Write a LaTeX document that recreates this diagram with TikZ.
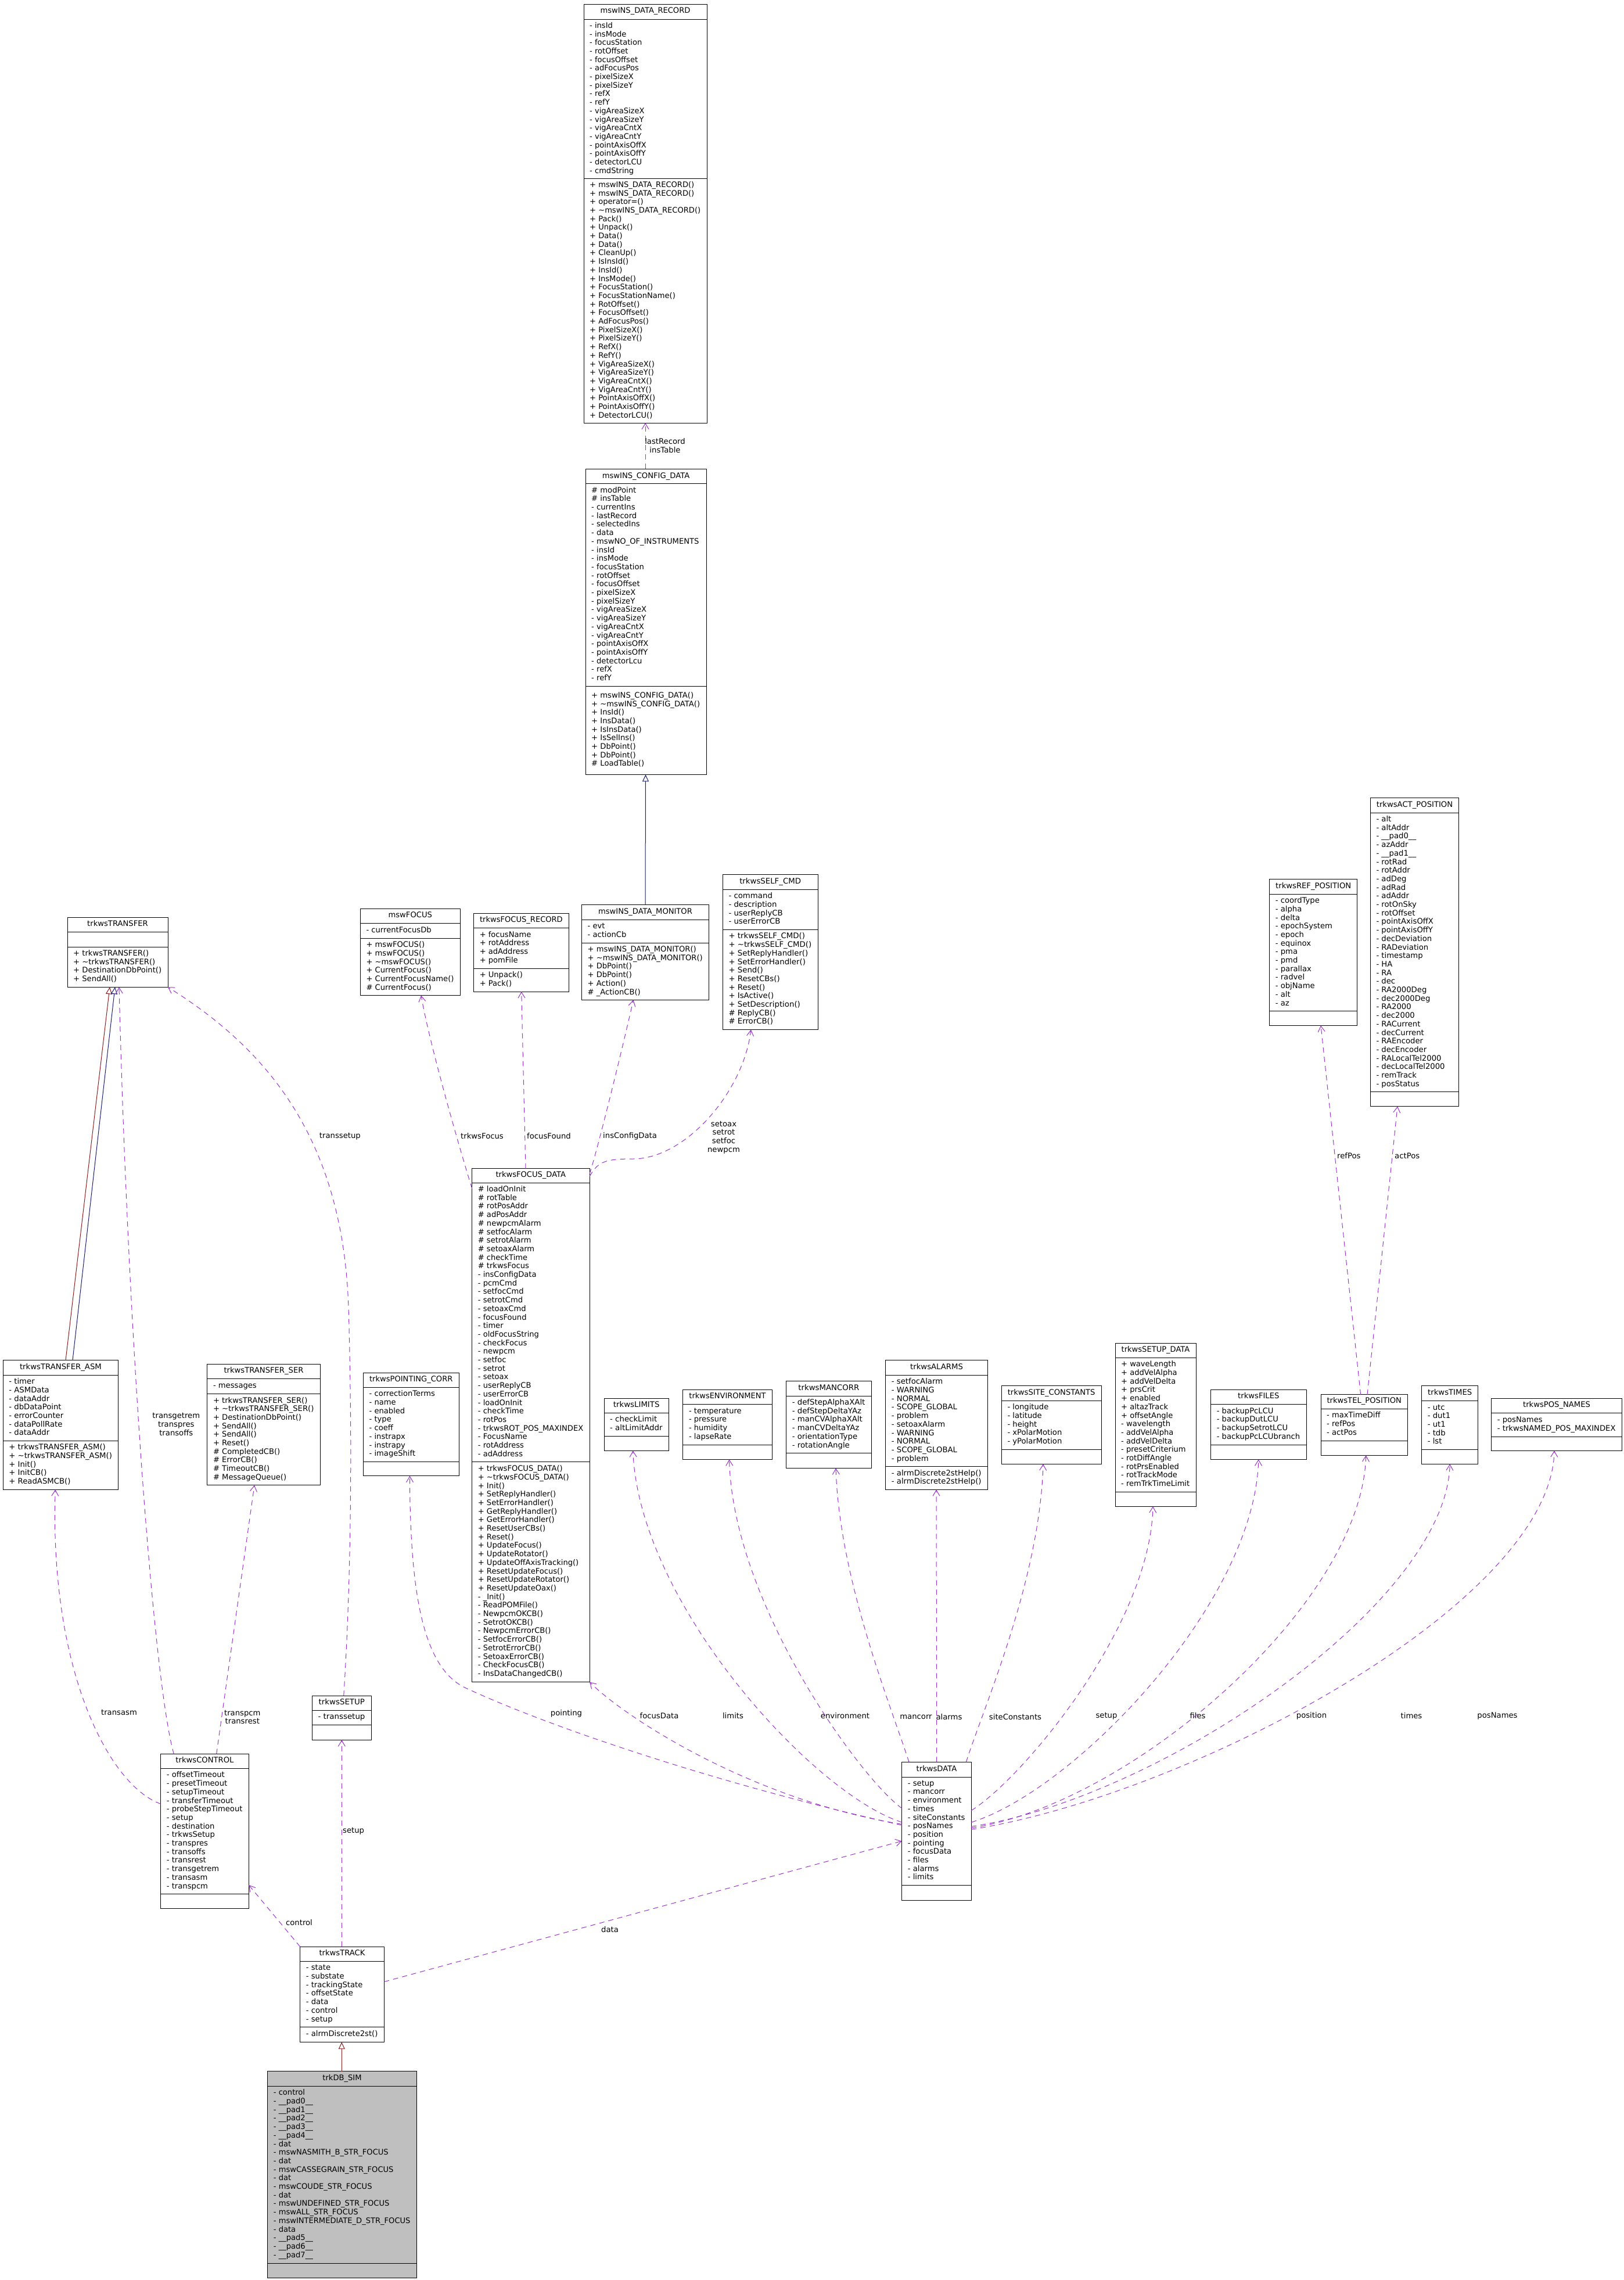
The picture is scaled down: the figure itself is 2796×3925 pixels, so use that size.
\documentclass[tikz,border=0pt]{standalone}
\usepackage{fontspec}
\setmainfont{DejaVu Sans}
\usepackage{graphicx}
\usetikzlibrary{arrows.meta,calc}
\definecolor{usecol}{HTML}{9A32CD}
\definecolor{pubcol}{HTML}{191970}
\definecolor{protcol}{HTML}{8B1A1A}
\definecolor{simfill}{HTML}{BFBFBF}
\newbox\measbox
\newdimen\wmaxd
\newcommand\tld{\textasciitilde}
\newcommand\sect[1]{\fontsize{13.2pt}{14.7pt}\selectfont\begin{tabular}{@{}l@{}}#1\end{tabular}}
\newcommand\clsdata[4]{\gdef\nA{#1}\gdef\cA{#2}\gdef\nM{#3}\gdef\cM{#4}}
\newcommand\measure[1]{\pgfinterruptpicture\setbox\measbox=\hbox{\sect{#1}}\ifdim\wd\measbox>\wmaxd\relax\global\wmaxd=\wd\measbox\relax\fi\endpgfinterruptpicture}
\makeatletter
\newcommand\cls[9]{%
 \global\wmaxd=1pt\relax
 \measure{#8}%
 \ifnum\nA>0 \measure{\cA}\fi
 \ifnum\nM>0 \measure{\cM}\fi
 \edef\wmax{\strip@pt\wmaxd}%
 \pgfmathsetmacro\sx{max(0.8,min(1.15,(#3-#2-21)/\wmax))}%
 \pgfmathsetmacro\bw{#3-#2}%
 \pgfmathsetmacro\bh{#7-#4}%
 \pgfmathsetmacro\tx{(#2+#3)/2}%
 \pgfmathsetmacro\ty{(#4+#5)/2}%
 \pgfmathsetmacro\ay{(#5+#6)/2}%
 \pgfmathsetmacro\my{(#6+#7)/2}%
 \pgfmathsetmacro\lx{#2+10}%
 \node[clsbox, fill=#9, minimum width=\bw pt, minimum height=\bh pt, anchor=north west] (#1) at (#2,#4) {};
 \draw[clsline] (#2,#5) -- (#3,#5) (#2,#6) -- (#3,#6);
 \node[txt] at (\tx,\ty) {\scalebox{\sx}[1]{\sect{#8}}};
 \ifnum\nA>0 \node[txt, anchor=west] at (\lx,\ay) {\scalebox{\sx}[1]{\sect{\cA}}};\fi
 \ifnum\nM>0 \node[txt, anchor=west] at (\lx,\my) {\scalebox{\sx}[1]{\sect{\cM}}};\fi
}
\makeatother
\begin{document}
\begin{tikzpicture}[x=1pt,y=-1pt,
 clsbox/.style={draw=black, line width=1pt, inner sep=0pt, outer sep=0pt},
 clsline/.style={draw=black, line width=1pt},
 txt/.style={inner sep=0pt, text=black},
 lbl/.style={inner sep=0pt, font=\fontsize{13.2pt}{14.7pt}\selectfont, text=black},
 usel/.style={draw=usecol, line width=1pt, dash pattern=on 9pt off 7pt, -{Straight Barb[length=10pt,width=12pt]}},
 inhpub/.style={draw=pubcol, line width=1pt, -{Triangle[open,length=12pt,width=11pt]}},
 inhprot/.style={draw=protcol, line width=1pt, -{Triangle[open,length=12pt,width=11pt]}}]
\fill[white] (0,0) rectangle (2796,3925);
\useasboundingbox (0,0) rectangle (2796,3925);

% ---------------- classes ----------------
\clsdata{18}{- insId\\- insMode\\- focusStation\\- rotOffset\\- focusOffset\\- adFocusPos\\- pixelSizeX\\- pixelSizeY\\- refX\\- refY\\- vigAreaSizeX\\- vigAreaSizeY\\- vigAreaCntX\\- vigAreaCntY\\- pointAxisOffX\\- pointAxisOffY\\- detectorLCU\\- cmdString}
{28}{+ mswINS\_DATA\_RECORD()\\+ mswINS\_DATA\_RECORD()\\+ operator=()\\+ \tld mswINS\_DATA\_RECORD()\\+ Pack()\\+ Unpack()\\+ Data()\\+ Data()\\+ CleanUp()\\+ IsInsId()\\+ InsId()\\+ InsMode()\\+ FocusStation()\\+ FocusStationName()\\+ RotOffset()\\+ FocusOffset()\\+ AdFocusPos()\\+ PixelSizeX()\\+ PixelSizeY()\\+ RefX()\\+ RefY()\\+ VigAreaSizeX()\\+ VigAreaSizeY()\\+ VigAreaCntX()\\+ VigAreaCntY()\\+ PointAxisOffX()\\+ PointAxisOffY()\\+ DetectorLCU()}
\cls{rec}{1005}{1217}{7}{33}{307.7}{728}{mswINS\_DATA\_RECORD}{white}

\clsdata{23}{\# modPoint\\\# insTable\\- currentIns\\- lastRecord\\- selectedIns\\- data\\- mswNO\_OF\_INSTRUMENTS\\- insId\\- insMode\\- focusStation\\- rotOffset\\- focusOffset\\- pixelSizeX\\- pixelSizeY\\- vigAreaSizeX\\- vigAreaSizeY\\- vigAreaCntX\\- vigAreaCntY\\- pointAxisOffX\\- pointAxisOffY\\- detectorLcu\\- refX\\- refY}
{9}{+ mswINS\_CONFIG\_DATA()\\+ \tld mswINS\_CONFIG\_DATA()\\+ InsId()\\+ InsData()\\+ IsInsData()\\+ IsSelIns()\\+ DbPoint()\\+ DbPoint()\\\# LoadTable()}
\cls{cfg}{1008}{1216}{807.3}{832.8}{1181}{1333.4}{mswINS\_CONFIG\_DATA}{white}

\clsdata{1}{- currentFocusDb}{6}{+ mswFOCUS()\\+ mswFOCUS()\\+ \tld mswFOCUS()\\+ CurrentFocus()\\+ CurrentFocusName()\\\# CurrentFocus()}
\cls{mfoc}{620.3}{792.3}{1564.3}{1589.3}{1615.4}{1713.6}{mswFOCUS}{white}

\clsdata{4}{+ focusName\\+ rotAddress\\+ adAddress\\+ pomFile}{2}{+ Unpack()\\+ Pack()}
\cls{frec}{815.6}{979.3}{1572.5}{1597.1}{1667.1}{1707.1}{trkwsFOCUS\_RECORD}{white}

\clsdata{2}{- evt\\- actionCb}{6}{+ mswINS\_DATA\_MONITOR()\\+ \tld mswINS\_DATA\_MONITOR()\\+ DbPoint()\\+ DbPoint()\\+ Action()\\\# \_ActionCB()}
\cls{mon}{1001.5}{1220.5}{1557.5}{1583.2}{1623.2}{1721.4}{mswINS\_DATA\_MONITOR}{white}

\clsdata{4}{- command\\- description\\- userReplyCB\\- userErrorCB}{11}{+ trkwsSELF\_CMD()\\+ \tld trkwsSELF\_CMD()\\+ SetReplyHandler()\\+ SetErrorHandler()\\+ Send()\\+ ResetCBs()\\+ Reset()\\+ IsActive()\\+ SetDescription()\\\# ReplyCB()\\\# ErrorCB()}
\cls{self}{1244.3}{1408}{1505.4}{1531.4}{1600.4}{1772.5}{trkwsSELF\_CMD}{white}

\clsdata{0}{}{4}{+ trkwsTRANSFER()\\+ \tld trkwsTRANSFER()\\+ DestinationDbPoint()\\+ SendAll()}
\cls{tra}{116}{289}{1579.3}{1604}{1630}{1699.3}{trkwsTRANSFER}{white}

\clsdata{13}{- coordType\\- alpha\\- delta\\- epochSystem\\- epoch\\- equinox\\- pma\\- pmd\\- parallax\\- radvel\\- objName\\- alt\\- az}{0}{}
\cls{refp}{2185.7}{2336.7}{1513.6}{1539.3}{1740.4}{1765.4}{trkwsREF\_POSITION}{white}

\clsdata{32}{- alt\\- altAddr\\- \_\_pad0\_\_\\- azAddr\\- \_\_pad1\_\_\\- rotRad\\- rotAddr\\- adDeg\\- adRad\\- adAddr\\- rotOnSky\\- rotOffset\\- pointAxisOffX\\- pointAxisOffY\\- decDeviation\\- RADeviation\\- timestamp\\- HA\\- RA\\- dec\\- RA2000Deg\\- dec2000Deg\\- RA2000\\- dec2000\\- RACurrent\\- decCurrent\\- RAEncoder\\- decEncoder\\- RALocalTel2000\\- decLocalTel2000\\- remTrack\\- posStatus}{0}{}
\cls{actp}{2359.3}{2511.7}{1373.6}{1399.3}{1879.6}{1904.6}{trkwsACT\_POSITION}{white}

\clsdata{32}{\# loadOnInit\\\# rotTable\\\# rotPosAddr\\\# adPosAddr\\\# newpcmAlarm\\\# setfocAlarm\\\# setrotAlarm\\\# setoaxAlarm\\\# checkTime\\\# trkwsFocus\\- insConfigData\\- pcmCmd\\- setfocCmd\\- setrotCmd\\- setoaxCmd\\- focusFound\\- timer\\- oldFocusString\\- checkFocus\\- newpcm\\- setfoc\\- setrot\\- setoax\\- userReplyCB\\- userErrorCB\\- loadOnInit\\- checkTime\\- rotPos\\- trkwsROT\_POS\_MAXINDEX\\- FocusName\\- rotAddress\\- adAddress}
{25}{+ trkwsFOCUS\_DATA()\\+ \tld trkwsFOCUS\_DATA()\\+ Init()\\+ SetReplyHandler()\\+ SetErrorHandler()\\+ GetReplyHandler()\\+ GetErrorHandler()\\+ ResetUserCBs()\\+ Reset()\\+ UpdateFocus()\\+ UpdateRotator()\\+ UpdateOffAxisTracking()\\+ ResetUpdateFocus()\\+ ResetUpdateRotator()\\+ ResetUpdateOax()\\- \_Init()\\- ReadPOMFile()\\- NewpcmOKCB()\\- SetrotOKCB()\\- NewpcmErrorCB()\\- SetfocErrorCB()\\- SetrotErrorCB()\\- SetoaxErrorCB()\\- CheckFocusCB()\\- InsDataChangedCB()}
\cls{fdat}{812.7}{1015}{2011.5}{2036.2}{2516.6}{2895.5}{trkwsFOCUS\_DATA}{white}

\clsdata{7}{- timer\\- ASMData\\- dataAddr\\- dbDataPoint\\- errorCounter\\- dataPollRate\\- dataAddr}{5}{+ trkwsTRANSFER\_ASM()\\+ \tld trkwsTRANSFER\_ASM()\\+ Init()\\+ InitCB()\\+ ReadASMCB()}
\cls{asm}{5.2}{203.7}{2341.7}{2367.3}{2480.3}{2564.3}{trkwsTRANSFER\_ASM}{white}

\clsdata{1}{- messages}{10}{+ trkwsTRANSFER\_SER()\\+ \tld trkwsTRANSFER\_SER()\\+ DestinationDbPoint()\\+ SendAll()\\+ SendAll()\\+ Reset()\\\# CompletedCB()\\\# ErrorCB()\\\# TimeoutCB()\\\# MessageQueue()}
\cls{ser}{356.8}{551.2}{2348.3}{2373.3}{2399.7}{2556.7}{trkwsTRANSFER\_SER}{white}

\clsdata{8}{- correctionTerms\\- name\\- enabled\\- type\\- coeff\\- instrapx\\- instrapy\\- imageShift}{0}{}
\cls{pcorr}{625.5}{790}{2363}{2388}{2516.7}{2540.7}{trkwsPOINTING\_CORR}{white}

\clsdata{2}{- checkLimit\\- altLimitAddr}{0}{}
\cls{lim}{1040}{1151.4}{2407.3}{2432.3}{2472.3}{2497.3}{trkwsLIMITS}{white}

\clsdata{4}{- temperature\\- pressure\\- humidity\\- lapseRate}{0}{}
\cls{env}{1175.9}{1329}{2392.3}{2417.3}{2487.3}{2512.3}{trkwsENVIRONMENT}{white}

\clsdata{6}{- defStepAlphaXAlt\\- defStepDeltaYAz\\- manCVAlphaXAlt\\- manCVDeltaYAz\\- orientationType\\- rotationAngle}{0}{}
\cls{manc}{1353.6}{1500.2}{2377.3}{2403.3}{2501.3}{2527.3}{trkwsMANCORR}{white}

\clsdata{10}{- setfocAlarm\\- WARNING\\- NORMAL\\- SCOPE\_GLOBAL\\- problem\\- setoaxAlarm\\- WARNING\\- NORMAL\\- SCOPE\_GLOBAL\\- problem}{2}{- alrmDiscrete2stHelp()\\- alrmDiscrete2stHelp()}
\cls{alm}{1524.7}{1700.4}{2341.3}{2367.3}{2524.7}{2564.3}{trkwsALARMS}{white}

\clsdata{5}{- longitude\\- latitude\\- height\\- xPolarMotion\\- yPolarMotion}{0}{}
\cls{site}{1724.3}{1896}{2385.3}{2411.3}{2495.3}{2520.3}{trkwsSITE\_CONSTANTS}{white}

\clsdata{15}{+ waveLength\\+ addVelAlpha\\+ addVelDelta\\+ prsCrit\\+ enabled\\+ altazTrack\\+ offsetAngle\\- wavelength\\- addVelAlpha\\- addVelDelta\\- presetCriterium\\- rotDiffAngle\\- rotPrsEnabled\\- rotTrackMode\\- remTrkTimeLimit}{0}{}
\cls{sdat}{1920}{2059}{2312.7}{2337.3}{2568.3}{2593.3}{trkwsSETUP\_DATA}{white}

\clsdata{4}{- backupPcLCU\\- backupDutLCU\\- backupSetrotLCU\\- backupPcLCUbranch}{0}{}
\cls{fil}{2084.6}{2249}{2392.7}{2417.3}{2487.3}{2512.3}{trkwsFILES}{white}

\clsdata{3}{- maxTimeDiff\\- refPos\\- actPos}{0}{}
\cls{telp}{2274}{2423.4}{2400.7}{2425.3}{2480}{2505.3}{trkwsTEL\_POSITION}{white}

\clsdata{5}{- utc\\- dut1\\- ut1\\- tdb\\- lst}{0}{}
\cls{tim}{2447.6}{2544.8}{2385.7}{2411.7}{2495.3}{2520.3}{trkwsTIMES}{white}

\clsdata{2}{- posNames\\- trkwsNAMED\_POS\_MAXINDEX}{0}{}
\cls{pos}{2567.7}{2792.3}{2407.3}{2432.3}{2473.3}{2497.3}{trkwsPOS\_NAMES}{white}

\clsdata{1}{- transsetup}{0}{}
\cls{setp}{537.3}{639.3}{2919.3}{2944.3}{2969.3}{2995.3}{trkwsSETUP}{white}

\clsdata{14}{- offsetTimeout\\- presetTimeout\\- setupTimeout\\- transferTimeout\\- probeStepTimeout\\- setup\\- destination\\- trkwsSetup\\- transpres\\- transoffs\\- transrest\\- transgetrem\\- transasm\\- transpcm}{0}{}
\cls{ctl}{276.7}{428.3}{3019.3}{3044.7}{3260.3}{3285.3}{trkwsCONTROL}{white}

\clsdata{12}{- setup\\- mancorr\\- environment\\- times\\- siteConstants\\- posNames\\- position\\- pointing\\- focusData\\- files\\- alarms\\- limits}{0}{}
\cls{dat}{1552.7}{1672.3}{3033.3}{3059.3}{3245}{3271}{trkwsDATA}{white}

\clsdata{7}{- state\\- substate\\- trackingState\\- offsetState\\- data\\- control\\- setup}{1}{- alrmDiscrete2st()}
\cls{trk}{516.7}{661.3}{3351.2}{3376.6}{3489.3}{3515.4}{trkwsTRACK}{white}

\clsdata{20}{- control\\- \_\_pad0\_\_\\- \_\_pad1\_\_\\- \_\_pad2\_\_\\- \_\_pad3\_\_\\- \_\_pad4\_\_\\- dat\\- mswNASMITH\_B\_STR\_FOCUS\\- dat\\- mswCASSEGRAIN\_STR\_FOCUS\\- dat\\- mswCOUDE\_STR\_FOCUS\\- dat\\- mswUNDEFINED\_STR\_FOCUS\\- mswALL\_STR\_FOCUS\\- mswINTERMEDIATE\_D\_STR\_FOCUS\\- data\\- \_\_pad5\_\_\\- \_\_pad6\_\_\\- \_\_pad7\_\_}{0}{}
\cls{sim}{460.7}{717.3}{3565.7}{3591.1}{3896}{3921}{trkDB\_SIM}{simfill}

% ---------------- inheritance ----------------
\draw[inhpub] ($(mon.north west)+(109.5,0)$) -- ($(cfg.south west)+(103.5,0)$);
\draw[inhprot] ($(sim.north west)+(127.6,0)$) -- ($(trk.south west)+(71.6,0)$);
\draw[inhprot] ($(asm.north west)+(107.8,0)$) -- ($(tra.south west)+(73,0)$);
\draw[inhpub] ($(asm.north west)+(119.8,0)$) -- ($(tra.south west)+(82,0)$);

% ---------------- usage ----------------
\draw[usel] ($(cfg.north west)+(103,0)$) -- ($(rec.south west)+(106,0)$);
\node[lbl, align=center] (l1) at (1145,767) {lastRecord\\insTable};

\draw[usel] ($(fdat.north west)+(0,34.5)$) .. controls (795,1990) and (740,1800) .. ($(mfoc.south west)+(104.7,0)$);
\node[lbl, anchor=west] (l2) at (793,1956) {trkwsFocus};

\draw[usel] ($(fdat.north west)+(92.3,0)$) -- ($(frec.south west)+(82.1,0)$);
\node[lbl, anchor=west] (l3) at (907,1956) {focusFound};

\draw[usel] ($(fdat.north east)+(0,9.5)$) .. controls (1030,1975) and (1075,1790) .. ($(mon.south west)+(88.9,0)$);
\node[lbl, anchor=west] (l4) at (1038,1956) {insConfigData};

\draw[usel] ($(fdat.north east)+(0,13.5)$) .. controls (1030,2000) and (1040,1995) .. (1090,1995) .. controls (1180,1995) and (1280,1880) .. ($(self.south west)+(48.6,0)$);
\node[lbl, align=center] (l5) at (1246,1958) {setoax\\setrot\\setfoc\\newpcm};

\draw[usel] ($(telp.north west)+(68.6,0)$) -- ($(refp.south west)+(88.3,0)$);
\node[lbl, anchor=west] (l6) at (2302,1990) {refPos};
\draw[usel] ($(telp.north west)+(80,0)$) -- ($(actp.south west)+(46.7,0)$);
\node[lbl, anchor=west] (l7) at (2401,1990) {actPos};

\draw[usel] ($(ctl.north west)+(96,0)$) -- ($(ser.south west)+(81.2,0)$);
\node[lbl, align=center] (l8) at (417.3,2956) {transpcm\\transrest};

\draw[usel] ($(ctl.north west)+(0,86)$) .. controls (190,3075) and (85,2880) .. ($(asm.south west)+(90,0)$);
\node[lbl] (l9) at (205,2948) {transasm};

\draw[usel] ($(ctl.north west)+(22.6,0)$) .. controls (265,2900) and (220,2300) .. ($(tra.south west)+(89,0)$);
\node[lbl, align=center] (l10) at (303.3,2452) {transgetrem\\transpres\\transoffs};

\draw[usel] ($(setp.north west)+(54.4,0)$) .. controls (606,2700) and (606,2450) .. (600,2250) .. controls (590,1950) and (450,1800) .. (tra.south east);
\node[lbl, anchor=east] (l11) at (621,1956) {transsetup};

\draw[usel] ($(trk.north west)+(71.6,0)$) -- ($(setp.south west)+(51,0)$);
\node[lbl, anchor=west] (l12) at (590,3151.7) {setup};

\draw[usel] (trk.north west) -- ($(ctl.north east)+(0,225.7)$);
\node[lbl] (l13) at (515,3310) {control};

\draw[usel] ($(trk.north east)+(0,60.4)$) -- ($(dat.north west)+(0,136)$);
\node[lbl] (l14) at (1050,3322) {data};

% from trkwsDATA
\draw[usel] ($(dat.north west)+(0,108.7)$) .. controls (1250,3075) and (950,2975) .. (800,2905) .. controls (730,2870) and (706,2750) .. ($(pcorr.south west)+(80,0)$);
\node[lbl] (l15) at (975,2950) {pointing};
\draw[usel] ($(dat.north west)+(0,107)$) .. controls (1300,3100) and (1080,2960) .. (fdat.south east);
\node[lbl] (l16) at (1135,2954) {focusData};
\draw[usel] ($(dat.north west)+(0,103.7)$) .. controls (1400,3088) and (1100,2760) .. ($(lim.south west)+(49.7,0)$);
\node[lbl] (l17) at (1262,2954) {limits};
\draw[usel] ($(dat.north west)+(0,79.7)$) .. controls (1480,3060) and (1262,2760) .. ($(env.south west)+(79.6,0)$);
\node[lbl] (l18) at (1455,2954) {environment};
\draw[usel] ($(dat.north west)+(12.3,0)$) .. controls (1535,2940) and (1445,2720) .. ($(manc.south west)+(85.4,0)$);
\node[lbl] (l19) at (1577,2955.7) {mancorr};
\draw[usel] ($(dat.north west)+(60,0)$) -- ($(alm.south west)+(87.3,0)$);
\node[lbl] (l20) at (1634,2955.7) {alarms};
\draw[usel] ($(dat.north west)+(110.6,0)$) .. controls (1695,2935) and (1790,2720) .. ($(site.south west)+(71.7,0)$);
\node[lbl] (l21) at (1748,2955.7) {siteConstants};
\draw[usel] ($(dat.north east)+(0,83.4)$) .. controls (1760,3062) and (1980,2800) .. ($(sdat.south west)+(65,0)$);
\node[lbl] (l22) at (1905,2954) {setup};
\draw[usel] ($(dat.north east)+(0,103.7)$) .. controls (1850,3082) and (2160,2760) .. ($(fil.south west)+(82.2,0)$);
\node[lbl] (l23) at (2062,2954) {files};
\draw[usel] ($(dat.north east)+(0,113.4)$) .. controls (1950,3105) and (2345,2760) .. ($(telp.south west)+(77.7,0)$);
\node[lbl] (l24) at (2258,2954) {position};
\draw[usel] ($(dat.north east)+(0,111)$) .. controls (2000,3095) and (2490,2760) .. ($(tim.south west)+(48.6,0)$);
\node[lbl] (l25) at (2430,2954) {times};
\draw[usel] ($(dat.north east)+(0,116)$) .. controls (2050,3090) and (2670,2760) .. ($(pos.south west)+(108.3,0)$);
\node[lbl] (l26) at (2578,2954) {posNames};
\end{tikzpicture}
\end{document}
